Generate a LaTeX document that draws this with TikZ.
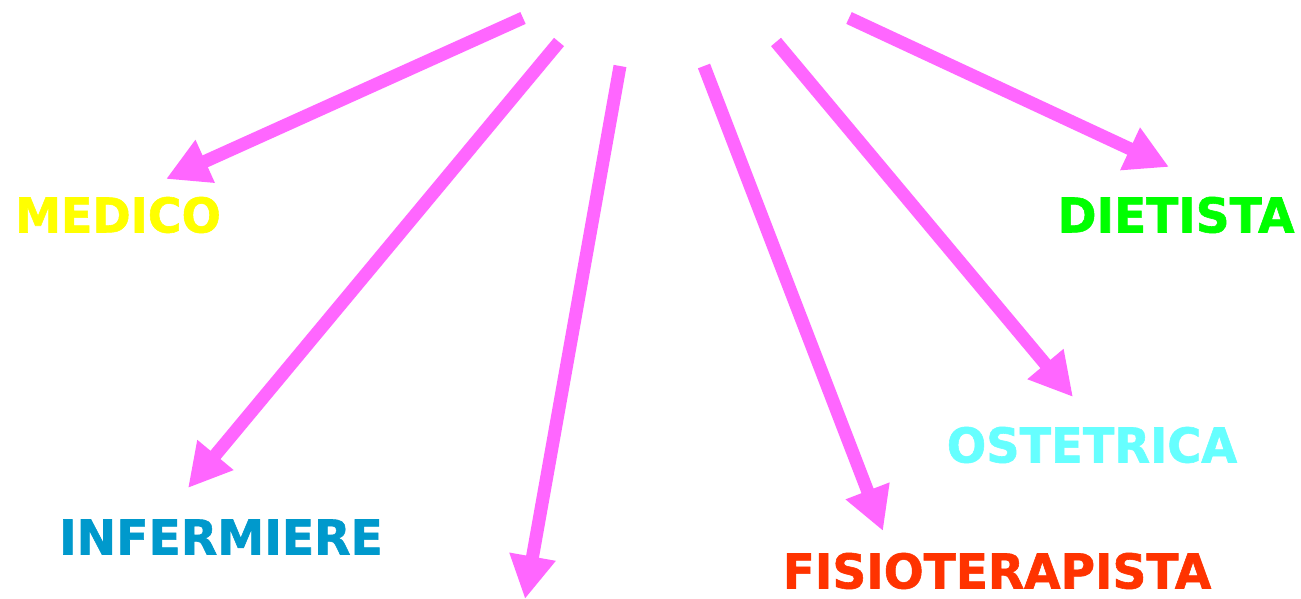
\documentclass[tikz,border=0pt]{standalone}
\usepackage{fontspec}
\setmainfont{DejaVu Sans}
\newfontfamily\rolefont{DejaVu Sans Bold}[FakeBold=1.2]
\usetikzlibrary{arrows.meta}
\definecolor{arrowpink}{HTML}{FF66FF}
\definecolor{medyellow}{HTML}{FFFF00}
\definecolor{dietgreen}{HTML}{00FF00}
\definecolor{ostcyan}{HTML}{66FFFF}
\definecolor{infblue}{HTML}{0099CC}
\definecolor{fisred}{HTML}{FF3300}
\tikzset{
  bigarrow/.style={draw=arrowpink, line width=13pt, line cap=butt,
    -{Triangle[length=43pt,width=44pt]}},
  role/.style={inner sep=0pt, anchor=center,
    font=\fontsize{48}{50}\rolefont}
}
\begin{document}
\begin{tikzpicture}[x=1pt,y=-1pt]
\useasboundingbox (0,0) rectangle (1301,599);
\fill[white] (0,0) rectangle (1301,599);
% labels
\node[role, text=medyellow] (medico) at (118,215) {\scalebox{0.96}[1]{MEDICO}};
\node[role, text=dietgreen] (dietista) at (1176,215) {\scalebox{0.98}[1]{DIETISTA}};
\node[role, text=ostcyan] (ostetrica) at (1092,445) {\scalebox{0.965}[1]{OSTETRICA}};
\node[role, text=infblue] (infermiere) at (221,537) {\scalebox{0.985}[1]{INFERMIERE}};
\node[role, text=fisred] (fisio) at (997,571) {\scalebox{0.98}[1]{FISIOTERAPISTA}};
% arrow ends
\coordinate (t1) at (523,18);  \coordinate (h1) at (166,179);
\coordinate (t2) at (559,42);  \coordinate (h2) at (188,488);
\coordinate (t3) at (620,66);  \coordinate (h3) at (525,599);
\coordinate (t4) at (704,66);  \coordinate (h4) at (883,531);
\coordinate (t5) at (776,42);  \coordinate (h5) at (1073,397);
\coordinate (t6) at (849,18);  \coordinate (h6) at (1169,167);
\draw[bigarrow] (t1) -- (h1);
\draw[bigarrow] (t2) -- (h2);
\draw[bigarrow] (t3) -- (h3);
\draw[bigarrow] (t4) -- (h4);
\draw[bigarrow] (t5) -- (h5);
\draw[bigarrow] (t6) -- (h6);
\end{tikzpicture}
\end{document}
